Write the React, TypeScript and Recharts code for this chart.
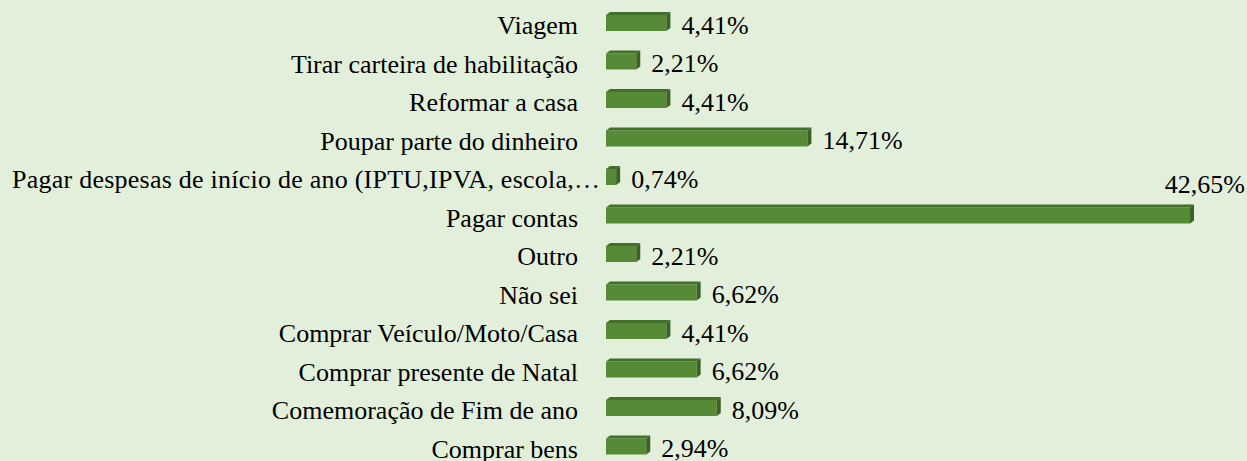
import { Bar, BarChart, LabelList, XAxis, YAxis } from 'recharts';

const categories = [
  'Viagem',
  'Tirar carteira de habilitação',
  'Reformar a casa',
  'Poupar parte do dinheiro',
  'Pagar despesas de início de ano (IPTU,IPVA, escola,…',
  'Pagar contas',
  'Outro',
  'Não sei',
  'Comprar Veículo/Moto/Casa',
  'Comprar presente de Natal',
  'Comemoração de Fim de ano',
  'Comprar bens',
];

const percents = [4.41, 2.21, 4.41, 14.71, 0.74, 42.65, 2.21, 6.62, 4.41, 6.62, 8.09, 2.94];

const data = categories.map((name, i) => ({ name, value: percents[i] }));
const maxValue = Math.max(...percents);

const FONT = 'Liberation Serif, Times New Roman, serif';
const BG = '#E2EFDA';
const FRONT = '#578A37';
const TOP = '#42702A';
const SIDE = '#3A6223';
const DEPTH = 4;

const fmt = (v: number) => v.toFixed(2).replace('.', ',') + '%';

function Bar3D(props: any) {
  const { x, y, width, height } = props;
  if (width == null || height == null) return null;
  const t = 3;
  const fy = y + t;
  return (
    <g>
      <rect x={x} y={fy} width={width} height={height - t} fill={FRONT} />
      <polygon
        points={`${x},${fy} ${x + DEPTH},${y} ${x + width + DEPTH},${y} ${x + width},${fy}`}
        fill={TOP}
      />
      <polygon
        points={`${x + width},${fy} ${x + width + DEPTH},${y} ${x + width + DEPTH},${y + height - t} ${x + width},${y + height}`}
        fill={SIDE}
      />
    </g>
  );
}

function CategoryTick(props: any) {
  const { x, y, payload } = props;
  const truncated = String(payload.value).endsWith('…');
  // the truncated label overflows up to the bar, like the original
  if (truncated) {
    return (
      <text
        x={x - 6}
        y={y + 13}
        textAnchor="end"
        fontFamily={FONT}
        fontSize={26}
        fill="#000"
        textLength={588}
        lengthAdjust="spacing"
      >
        {payload.value}
      </text>
    );
  }
  return (
    <text x={x - 28} y={y + 13} textAnchor="end" fontFamily={FONT} fontSize={26} fill="#000">
      {payload.value}
    </text>
  );
}

function ValueLabel(props: any) {
  const { x, y, width, height, value } = props;
  const cy = y + height / 2;
  if (value === maxValue) {
    return (
      <text x={1245} y={cy - 21} textAnchor="end" fontFamily={FONT} fontSize={26} fill="#000">
        {fmt(value)}
      </text>
    );
  }
  return (
    <text x={x + width + DEPTH + 11} y={cy + 12} fontFamily={FONT} fontSize={26} fill="#000">
      {fmt(value)}
    </text>
  );
}

export default function App() {
  return (
    <div style={{ position: 'absolute', left: 0, top: 0, width: 1247, height: 461, overflow: 'hidden', background: BG }}>
      <BarChart
        width={1247}
        height={464}
        data={data}
        layout="vertical"
        margin={{ top: 2, right: 57, bottom: 0, left: 0 }}
        barSize={19}
      >
        <XAxis type="number" hide domain={[0, maxValue]} />
        <YAxis
          type="category"
          dataKey="name"
          width={606}
          interval={0}
          axisLine={false}
          tickLine={false}
          tickSize={0}
          tickMargin={0}
          tick={<CategoryTick />}
        />
        <Bar dataKey="value" shape={<Bar3D />} isAnimationActive={false}>
          <LabelList dataKey="value" content={<ValueLabel />} />
        </Bar>
      </BarChart>
    </div>
  );
}
